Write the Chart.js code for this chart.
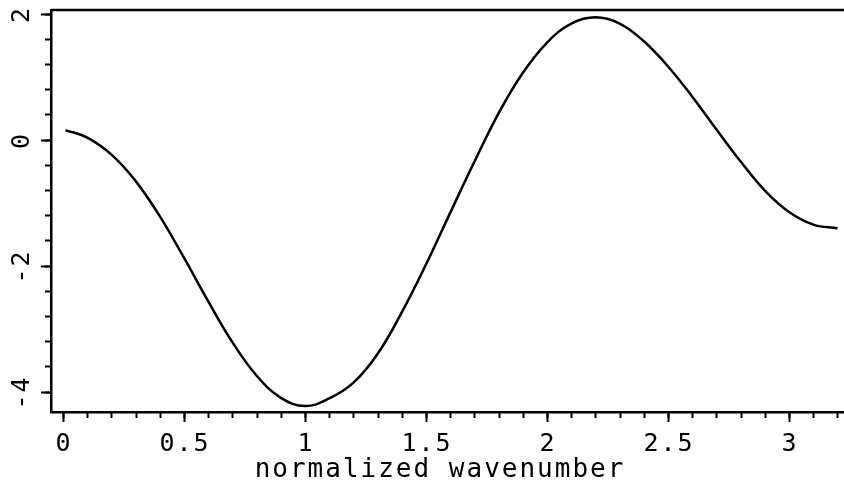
<!DOCTYPE html>
<html>
<head>
<meta charset="utf-8">
<script src="https://cdn.jsdelivr.net/npm/chart.js@4"></script>
<style>
  html, body { margin: 0; padding: 0; background: #fff; }
  canvas { display: block; }
</style>
</head>
<body>
<canvas id="c" width="844" height="490"></canvas>
<script>
// ---- data ----
const xValues = [0.01, 0.1, 0.2, 0.3, 0.4, 0.5, 0.6, 0.7, 0.8, 0.9, 1.0, 1.1, 1.2, 1.3, 1.4, 1.5, 1.6,
                 1.7, 1.8, 1.9, 2.0, 2.1, 2.2, 2.3, 2.4, 2.5, 2.6, 2.7, 2.8, 2.9, 3.0, 3.1, 3.2];
const yValues = [0.15, 0.03, -0.24, -0.66, -1.22, -1.88, -2.57, -3.22, -3.75, -4.10, -4.23, -4.11, -3.86,
                 -3.40, -2.74, -1.98, -1.16, -0.35, 0.42, 1.06, 1.54, 1.84, 1.94, 1.84, 1.56, 1.16, 0.68,
                 0.16, -0.35, -0.81, -1.15, -1.35, -1.41];

const xMajorTicks = [0, 0.5, 1, 1.5, 2, 2.5, 3];
const xTickLabels = ['0', '0.5', '1', '1.5', '2', '2.5', '3'];
const xMinorTicks = [0, 0.1, 0.2, 0.3, 0.4, 0.5, 0.6, 0.7, 0.8, 0.9, 1.0, 1.1, 1.2, 1.3, 1.4, 1.5, 1.6,
                     1.7, 1.8, 1.9, 2.0, 2.1, 2.2, 2.3, 2.4, 2.5, 2.6, 2.7, 2.8, 2.9, 3.0, 3.1, 3.2];
const yMajorTicks = [2, 0, -2, -4];
const yTickLabels = ['2', '0', '-2', '-4'];
const yMinorTicks = [2, 1.6, 1.2, 0.8, 0.4, 0, -0.4, -0.8, -1.2, -1.6, -2, -2.4, -2.8, -3.2, -3.6, -4];
const xTitle = 'normalized wavenumber';

const FONT = '25px "DejaVu Sans Mono", monospace';

const axesPlugin = {
  id: 'axesPlugin',
  beforeDraw(chart) {
    const ctx = chart.ctx;
    ctx.save();
    ctx.fillStyle = '#fff';
    ctx.fillRect(0, 0, chart.width, chart.height);
    ctx.restore();
  },
  afterDraw(chart) {
    const ctx = chart.ctx;
    const xs = chart.scales.x, ys = chart.scales.y;
    const a = chart.chartArea;
    ctx.save();
    ctx.strokeStyle = '#000';
    ctx.fillStyle = '#000';
    ctx.lineCap = 'butt';
    // top frame line
    ctx.lineWidth = 2.5;
    ctx.beginPath();
    ctx.moveTo(a.left, a.top);
    ctx.lineTo(chart.width, a.top);
    ctx.stroke();
    // x ticks
    ctx.lineWidth = 2;
    xMinorTicks.forEach(v => {
      const px = Math.round(xs.getPixelForValue(v)) + 0.5;
      ctx.beginPath(); ctx.moveTo(px, a.bottom); ctx.lineTo(px, a.bottom + 6); ctx.stroke();
    });
    xMajorTicks.forEach(v => {
      const px = Math.round(xs.getPixelForValue(v)) + 0.5;
      ctx.beginPath(); ctx.moveTo(px, a.bottom); ctx.lineTo(px, a.bottom + 10); ctx.stroke();
    });
    // y ticks
    yMinorTicks.forEach(v => {
      const py = Math.round(ys.getPixelForValue(v)) + 0.5;
      ctx.beginPath(); ctx.moveTo(a.left, py); ctx.lineTo(a.left - 6, py); ctx.stroke();
    });
    yMajorTicks.forEach(v => {
      const py = Math.round(ys.getPixelForValue(v)) + 0.5;
      ctx.beginPath(); ctx.moveTo(a.left, py); ctx.lineTo(a.left - 10, py); ctx.stroke();
    });
    // labels
    ctx.font = FONT;
    ctx.textAlign = 'center';
    ctx.textBaseline = 'middle';
    try { ctx.letterSpacing = '2px'; } catch (e) {}
    xMajorTicks.forEach((v, i) => {
      ctx.fillText(xTickLabels[i], xs.getPixelForValue(v) + 1, a.bottom + 32);
    });
    yMajorTicks.forEach((v, i) => {
      ctx.save();
      ctx.translate(a.left - 29, ys.getPixelForValue(v) + 1);
      ctx.rotate(-Math.PI / 2);
      ctx.fillText(yTickLabels[i], 0, 0);
      ctx.restore();
    });
    ctx.font = '26px "DejaVu Sans Mono", monospace';
    try { ctx.letterSpacing = '2px'; } catch (e) {}
    ctx.fillText(xTitle, 440, a.bottom + 58);
    ctx.restore();
  }
};

new Chart(document.getElementById('c'), {
  type: 'line',
  data: {
    datasets: [{
      data: xValues.map((x, i) => ({ x: x, y: yValues[i] })),
      borderColor: '#000',
      borderWidth: 2.5,
      pointRadius: 0,
      fill: false,
      tension: 0.4
    }]
  },
  options: {
    responsive: false,
    animation: false,
    events: [],
    layout: { padding: { left: 51, right: 0, top: 10, bottom: 78 } },
    plugins: { legend: { display: false }, tooltip: { enabled: false }, title: { display: false } },
    scales: {
      x: {
        type: 'linear', min: -0.05, max: 3.227,
        ticks: { display: false },
        grid: { display: false, drawTicks: false },
        border: { display: true, color: '#000', width: 2.5 }
      },
      y: {
        type: 'linear', min: -4.325, max: 2.056,
        ticks: { display: false },
        grid: { display: false, drawTicks: false },
        border: { display: true, color: '#000', width: 2.5 }
      }
    }
  },
  plugins: [axesPlugin]
});
</script>
</body>
</html>
